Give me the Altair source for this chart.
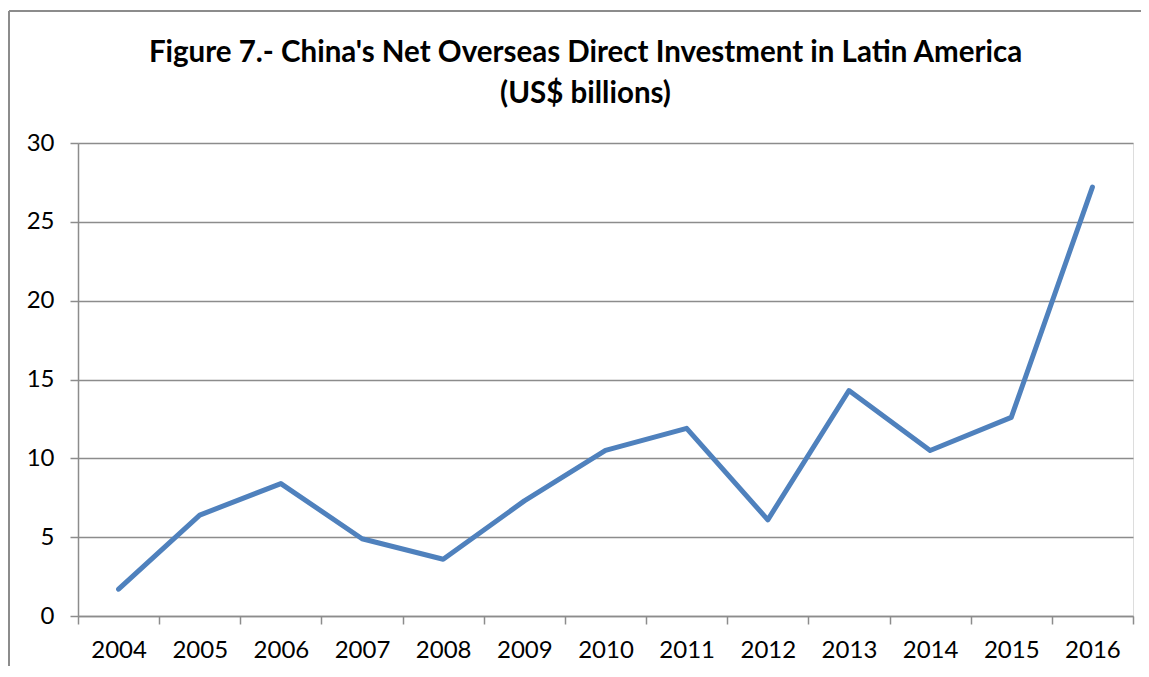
import altair as alt
import pandas as pd

years = ["2004", "2005", "2006", "2007", "2008", "2009", "2010",
         "2011", "2012", "2013", "2014", "2015", "2016"]
values = [1.7, 6.4, 8.4, 4.9, 3.6, 7.3, 10.5, 11.9, 6.1, 14.3, 10.5, 12.6, 27.2]

df = pd.DataFrame({"year": years, "value": values})

FONT = "Lato"
GRID = "#8c8c8c"

x_scale = alt.Scale(type="band", domain=years, paddingInner=0, paddingOuter=0)

line = alt.Chart(df).mark_line(
    color="#4F81BD", strokeWidth=5, strokeCap="round", strokeJoin="round"
).encode(
    x=alt.X("year:O", scale=x_scale, bandPosition=0.5,
            axis=alt.Axis(title=None, labelAngle=0, tickBand="extent",
                          labelFont=FONT, labelFontSize=24, labelColor="black",
                          labelPadding=14, tickSize=8, tickColor=GRID,
                          tickWidth=1.5, domainColor=GRID, domainWidth=1.5,
                          grid=False)),
    y=alt.Y("value:Q", scale=alt.Scale(domain=[0, 30]),
            axis=alt.Axis(title=None, values=[0, 5, 10, 15, 20, 25, 30],
                          labelFont=FONT, labelFontSize=24, labelColor="black",
                          labelPadding=16, tickSize=8, tickColor=GRID,
                          tickWidth=1.5, domainColor=GRID, domainWidth=1.5,
                          grid=True, gridColor=GRID, gridWidth=1.5)),
)

border_left = alt.Chart(df).mark_rule(color="#8c8c8c", strokeWidth=1.5).encode(
    x=alt.value(-69), y=alt.value(-132), y2=alt.value(560)
)
border_top = alt.Chart(df).mark_rule(color="#8c8c8c", strokeWidth=1.5).encode(
    x=alt.value(-69), x2=alt.value(1100), y=alt.value(-132)
)

chart = alt.layer(border_left, border_top, line).properties(
    width=1055,
    height=473,
    padding={"left": 70, "top": 135, "right": 8, "bottom": 50},
    autosize=alt.AutoSizeParams(type="none"),
    title=alt.TitleParams(
        text=["Figure 7.- China's Net Overseas Direct Investment in Latin America",
              "(US$ billions)"],
        font=FONT, fontSize=29.5, fontWeight="bold", color="black",
        anchor="middle", frame="group", dx=-20, offset=-99, lineHeight=41,
    ),
).configure_view(stroke=None).configure(background="white")

chart.save("out.html", embed_options={"renderer": "svg", "actions": False})
